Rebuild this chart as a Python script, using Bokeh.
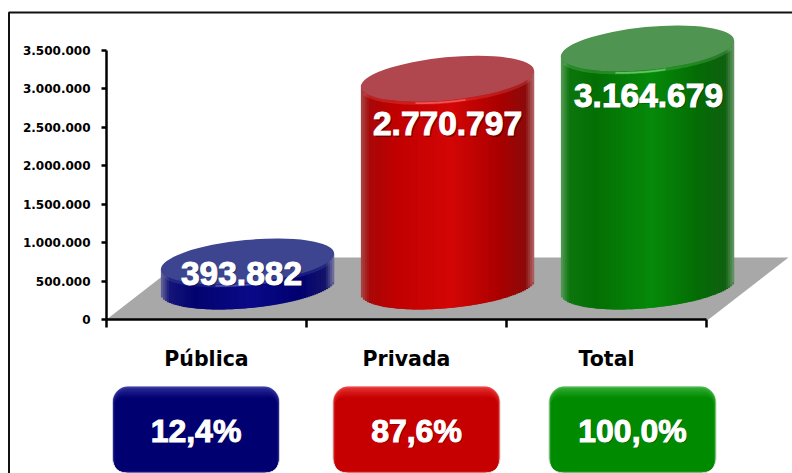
import math
import numpy as np
from bokeh.core.properties import value
from bokeh.embed import file_html
from bokeh.models import FixedTicker
from bokeh.plotting import figure
from bokeh.resources import INLINE

categories = ["Pública", "Privada", "Total"]
values = [393882, 2770797, 3164679]
value_labels = ["393.882", "2.770.797", "3.164.679"]
shares = ["12,4%", "87,6%", "100,0%"]
y_ticks = [0, 500000, 1000000, 1500000, 2000000, 2500000, 3000000, 3500000]
y_tick_labels = ["0", "500.000", "1.000.000", "1.500.000", "2.000.000", "2.500.000", "3.000.000", "3.500.000"]

WIDTH, HEIGHT = 792, 473
PX_X0, PX_Y0 = 106.0, 319.0      # page position of the axes' origin
PX_CAT, PX_TOP = 200.0, 50.0     # width of a category, page row of the top tick
UNIT = (PX_Y0 - PX_TOP) / y_ticks[-1]


def X(px):
    return (np.asarray(px, dtype=float) - PX_X0) / PX_CAT


def Y(py):
    return (PX_Y0 - np.asarray(py, dtype=float)) / UNIT


p = figure(width=WIDTH, height=HEIGHT, output_backend="svg", toolbar_location=None,
           x_range=(float(X(0)), float(X(WIDTH))), y_range=(float(Y(HEIGHT)), float(Y(0))),
           min_border=0, outline_line_color=None)
p.grid.visible = False
p.background_fill_color = "white"
p.border_fill_color = "white"


def hexmix(c1, c2, t):
    a = [int(c1[i:i + 2], 16) for i in (1, 3, 5)]
    b = [int(c2[i:i + 2], 16) for i in (1, 3, 5)]
    return "#%02x%02x%02x" % tuple(round(x + (y - x) * t) for x, y in zip(a, b))


# chart frame, left and top lines only (the rest falls off the picture)
p.line(X([8.5, 8.5, 800]), Y([480, 12, 12]), line_color="#111111", line_width=2)

# floor
DEPTH_X, DEPTH_Y = 80.0, 62.0
p.patch(X([PX_X0, PX_X0 + DEPTH_X, 708 + DEPTH_X, 708]),
        Y([PX_Y0, PX_Y0 - DEPTH_Y, PX_Y0 - DEPTH_Y, PX_Y0]), fill_color="#a8a8a8", line_color=None)

# cylinders
A, B, TILT = 87.0, 21.5, math.radians(5.5)
PX_SHIFT = 41.0
BASE_ROW, TOP_ROW0 = 286.0, 291.2
stops = [0, .05, .2, .52, .8, .95, 1]
body_colors = [
    ["#6a6a9a", "#14147a", "#03036f", "#0a0a88", "#000070", "#14146a", "#7a7aa5"],
    ["#a84a4a", "#a80808", "#c00000", "#d40606", "#aa0000", "#8c0a0a", "#b06a6a"],
    ["#5a9a5a", "#0c760c", "#046f04", "#068a0a", "#056b05", "#106010", "#6a9a6a"],
]
lid_colors = ["#3d4590", "#b0464e", "#4f9450"]
rim_colors = ["#6a70c0", "#ff7a7a", "#8fe08f"]
label_offset = [12, 45, 47]
label_shift = [-6, 0, 1]


def chord(dx):
    s, c = math.sin(TILT), math.cos(TILT)
    qa = s * s / A ** 2 + c * c / B ** 2
    qb = 2 * dx * s * c * (1 / B ** 2 - 1 / A ** 2)
    qc = dx * dx * (c * c / A ** 2 + s * s / B ** 2) - 1
    root = np.sqrt(np.maximum(qb * qb - 4 * qa * qc, 0))
    return -qb / (2 * qa), (-qb + root) / (2 * qa)


half = math.sqrt((A * math.cos(TILT)) ** 2 + (B * math.sin(TILT)) ** 2)
edges = np.linspace(-half, half, 88)

for i, v in enumerate(values):
    cx = PX_X0 + (i + .5) * PX_CAT + PX_SHIFT
    top_row = TOP_ROW0 - v * UNIT
    mids = (edges[:-1] + edges[1:]) / 2
    mid_top, _ = chord(mids)
    _, low = chord(mids)
    rgb = [[int(c[k:k + 2], 16) for k in (1, 3, 5)] for c in body_colors[i]]
    ts = (mids + half) / (2 * half)
    cols = ["#%02x%02x%02x" % tuple(int(round(np.interp(t, stops, [r[k] for r in rgb]))) for k in range(3)) for t in ts]
    right = cx + np.append(edges[2:], edges[-1])
    p.quad(left=X(cx + edges[:-1]), right=X(right), top=Y(top_row + mid_top), bottom=Y(BASE_ROW + low),
           fill_color=cols, line_color=None)
    # rim below the lid
    rim = np.linspace(-half + 3, half - 3, 50)
    _, rl = chord(rim)
    p.line(X(cx + rim), Y(top_row + rl + 1.5), line_color=rim_colors[i], line_width=3, line_alpha=.22)
    bright = np.linspace(-32, 18, 20)
    _, bl = chord(bright)
    p.line(X(cx + bright), Y(top_row + bl + 1.5), line_color=rim_colors[i], line_width=1.8, line_alpha=.6)
    p.ellipse(x=[float(X(cx))], y=[float(Y(top_row))], width=2 * A, height=2 * B, width_units="screen",
              height_units="screen", angle=TILT, fill_color=lid_colors[i], line_color=None)
    lx, ly = float(X(cx + label_shift[i])), float(Y(top_row + label_offset[i]))
    p.text(x=[lx + 1.5 / PX_CAT], y=[ly - 1.5 / UNIT], text=[value_labels[i]], text_color="#000000", text_alpha=.4,
           text_font=value("Liberation Sans"), text_font_style="bold", text_font_size="33.5px",
           text_align="center", text_baseline="middle")
    p.text(x=[lx], y=[ly], text=[value_labels[i]], text_color="#ffffff",
           text_font=value("Liberation Sans"), text_font_style="bold", text_font_size="33.5px",
           text_align="center", text_baseline="middle", text_outline_color="#ffffff")

# share boxes
box_centers = [195.5, 416.0, 632.0]
BOX_HALF, BOX_TOP, BOX_BOTTOM = 83.0, 386.0, 472.0
box_core = ["#000070", "#c60000", "#008a00"]
box_edge = ["#3a3aa8", "#f04040", "#44b844"]
LAYERS = 9
for i, cx in enumerate(box_centers):
    p.quad(left=X(cx - BOX_HALF - 1), right=X(cx + BOX_HALF + 1), top=Y(BOX_TOP), bottom=Y(BOX_BOTTOM + 1.5),
           fill_color="#666666", fill_alpha=.3, line_color=None, border_radius=16)
    for k in range(LAYERS):
        t = k / (LAYERS - 1)
        col = hexmix(box_edge[i], box_core[i], t ** .6)
        p.quad(left=X(cx - BOX_HALF + k * .25), right=X(cx + BOX_HALF - k * .25), top=Y(BOX_TOP + k * 1.4),
               bottom=Y(BOX_BOTTOM - k * .2), fill_color=col, line_color=None, border_radius=max(15 - k, 6))
    lx, ly = float(X(cx)), float(Y(430))
    p.text(x=[lx + 1.2 / PX_CAT], y=[ly - 1.2 / UNIT], text=[shares[i]], text_color="#000000", text_alpha=.4,
           text_font=value("Liberation Sans"), text_font_style="bold", text_font_size="32px",
           text_align="center", text_baseline="middle")
    p.text(x=[lx], y=[ly], text=[shares[i]], text_color="#ffffff",
           text_font=value("Liberation Sans"), text_font_style="bold", text_font_size="32px",
           text_align="center", text_baseline="middle", text_outline_color="#ffffff")

# axes drawn through the library, on the origin of the plot
xa = p.xaxis[0]
xa.fixed_location = 0
xa.bounds = (0, 3)
xa.ticker = FixedTicker(ticks=[k + .5 for k in range(len(categories))], minor_ticks=list(range(len(categories) + 1)))
xa.major_label_overrides = {k + .5: c for k, c in enumerate(categories)}
xa.major_tick_in = xa.major_tick_out = 0
xa.minor_tick_in, xa.minor_tick_out = 0, 8
xa.minor_tick_line_color = "#000000"
xa.minor_tick_line_width = 2.5
xa.axis_line_color = "#000000"
xa.axis_line_width = 2.5
xa.major_label_standoff = 19
xa.major_label_text_font = "DejaVu Sans"
xa.major_label_text_font_style = "bold"
xa.major_label_text_font_size = "20.5px"
xa.major_label_text_color = "#000000"

ya = p.yaxis[0]
ya.fixed_location = 0
ya.bounds = (0, y_ticks[-1])
ya.ticker = FixedTicker(ticks=y_ticks, minor_ticks=[])
ya.major_label_overrides = dict(zip(y_ticks, y_tick_labels))
ya.major_tick_in, ya.major_tick_out = 0, 5
ya.major_tick_line_color = "#000000"
ya.major_tick_line_width = 2.5
ya.axis_line_color = "#000000"
ya.axis_line_width = 2.5
ya.major_label_standoff = 11
ya.major_label_text_font = "DejaVu Sans"
ya.major_label_text_font_style = "bold"
ya.major_label_text_font_size = "12px"
ya.major_label_text_color = "#000000"

open("out.html", "w").write(file_html(p, INLINE))
